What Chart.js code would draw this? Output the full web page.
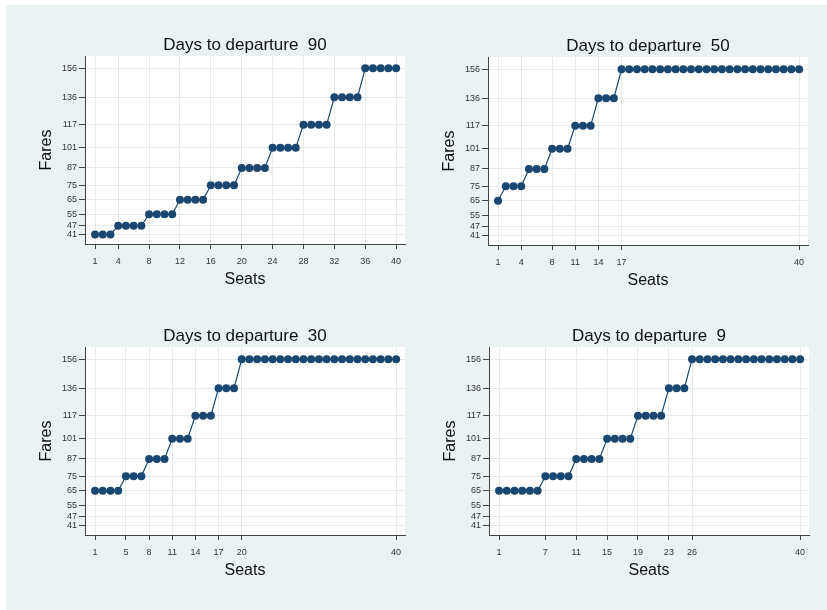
<!DOCTYPE html>
<html lang="en">
<head>
    <meta charset="UTF-8">
    <title>Fares by seats and days to departure</title>
    <script src="https://cdn.jsdelivr.net/npm/chart.js"></script>
    <style>
        body { margin: 0; background: #ffffff; }
        #page {
            position: absolute;
            left: 6px; top: 5px;
            width: 821px; height: 605px;
            background: #eaf2f3;
        }
        .panel {
            position: absolute;
            width: 405px;
            height: 300px;
        }
    </style>
</head>
<body>
    <div id="page"></div>
    <div class="panel" style="left:6px; top:5px;"><canvas id="c90"></canvas></div>
    <div class="panel" style="left:409px; top:6px;"><canvas id="c50"></canvas></div>
    <div class="panel" style="left:6px; top:296px;"><canvas id="c30"></canvas></div>
    <div class="panel" style="left:410px; top:296px;"><canvas id="c9"></canvas></div>

    <script>
        // Seat numbers on the x axis
        const seats = [1, 2, 3, 4, 5, 6, 7, 8, 9, 10, 11, 12, 13, 14, 15, 16, 17, 18, 19, 20,
                       21, 22, 23, 24, 25, 26, 27, 28, 29, 30, 31, 32, 33, 34, 35, 36, 37, 38, 39, 40];

        // Fares per seat, one list per days-to-departure panel
        const fares90 = [41, 41, 41, 47, 47, 47, 47, 55, 55, 55, 55, 65, 65, 65, 65, 75, 75, 75, 75, 87,
                         87, 87, 87, 101, 101, 101, 101, 117, 117, 117, 117, 136, 136, 136, 136, 156, 156, 156, 156, 156];
        const fares50 = [65, 75, 75, 75, 87, 87, 87, 101, 101, 101, 117, 117, 117, 136, 136, 136, 156, 156, 156, 156,
                         156, 156, 156, 156, 156, 156, 156, 156, 156, 156, 156, 156, 156, 156, 156, 156, 156, 156, 156, 156];
        const fares30 = [65, 65, 65, 65, 75, 75, 75, 87, 87, 87, 101, 101, 101, 117, 117, 117, 136, 136, 136, 156,
                         156, 156, 156, 156, 156, 156, 156, 156, 156, 156, 156, 156, 156, 156, 156, 156, 156, 156, 156, 156];
        const fares9 = [65, 65, 65, 65, 65, 65, 75, 75, 75, 75, 87, 87, 87, 87, 101, 101, 101, 101, 117, 117,
                        117, 117, 136, 136, 136, 156, 156, 156, 156, 156, 156, 156, 156, 156, 156, 156, 156, 156, 156, 156];

        // Tick labels
        const fareTicks = [41, 47, 55, 65, 75, 87, 101, 117, 136, 156];
        const seatTicks90 = [1, 4, 8, 12, 16, 20, 24, 28, 32, 36, 40];
        const seatTicks50 = [1, 4, 8, 11, 14, 17, 40];
        const seatTicks30 = [1, 5, 8, 11, 14, 17, 20, 40];
        const seatTicks9 = [1, 7, 11, 15, 19, 23, 26, 40];

        const navy = '#1a476f';
        const fontFamily = '"Liberation Sans", Arial, sans-serif';

        // white plot region + title centred over the plot region (Stata style)
        const plotBg = {
            id: 'plotBg',
            beforeDraw(chart) {
                const a = chart.chartArea;
                chart.ctx.save();
                chart.ctx.fillStyle = '#ffffff';
                chart.ctx.fillRect(a.left, a.top, a.right - a.left, a.bottom - a.top);
                chart.ctx.restore();
            },
            afterDraw(chart, args, opts) {
                const a = chart.chartArea;
                const ctx = chart.ctx;
                ctx.save();
                ctx.fillStyle = '#111';
                ctx.font = '17px ' + fontFamily;
                ctx.textAlign = 'center';
                ctx.textBaseline = 'middle';
                ctx.fillText(opts.text, (a.left + a.right) / 2, a.top - 11);
                ctx.restore();
            }
        };

        function makePanel(id, days, fares, seatTicks) {
            new Chart(document.getElementById(id), {
                type: 'line',
                data: {
                    datasets: [{
                        data: seats.map((s, i) => ({ x: s, y: fares[i] })),
                        borderColor: navy,
                        backgroundColor: navy,
                        borderWidth: 1.2,
                        pointRadius: 4,
                        pointBorderWidth: 0,
                        pointBackgroundColor: navy,
                        tension: 0
                    }]
                },
                options: {
                    responsive: true,
                    maintainAspectRatio: false,
                    animation: false,
                    layout: { padding: { left: 0, top: 51, right: 6, bottom: 11 } },
                    plugins: {
                        legend: { display: false },
                        tooltip: { enabled: false },
                        title: { display: false },
                        plotBg: { text: 'Days to departure  ' + days }
                    },
                    scales: {
                        x: {
                            type: 'linear',
                            min: -0.3,
                            max: 41.15,
                            afterBuildTicks: s => { s.ticks = seatTicks.map(v => ({ value: v })); },
                            afterFit: s => { s.height = 50; },
                            grid: { color: '#e2eaec', tickColor: '#444', tickLength: 5 },
                            border: { color: '#444', width: 1 },
                            ticks: {
                                autoSkip: false, maxRotation: 0, padding: 7,
                                color: '#333', font: { family: fontFamily, size: 9 }
                            },
                            title: {
                                display: true, text: 'Seats', color: '#111',
                                font: { family: fontFamily, size: 16 },
                                padding: { top: 0, bottom: 5 }
                            }
                        },
                        y: {
                            type: 'linear',
                            min: 34.4,
                            max: 164.5,
                            afterBuildTicks: s => { s.ticks = fareTicks.map(v => ({ value: v })); },
                            afterFit: s => { s.width = 79; },
                            grid: { color: '#e2eaec', tickColor: '#444', tickLength: 6 },
                            border: { color: '#444', width: 1 },
                            ticks: {
                                autoSkip: false, padding: 2,
                                color: '#333', font: { family: fontFamily, size: 9 }
                            },
                            title: {
                                display: true, text: 'Fares', color: '#111',
                                font: { family: fontFamily, size: 16 },
                                padding: { top: 31, bottom: 0 }
                            }
                        }
                    }
                },
                plugins: [plotBg]
            });
        }

        makePanel('c90', 90, fares90, seatTicks90);
        makePanel('c50', 50, fares50, seatTicks50);
        makePanel('c30', 30, fares30, seatTicks30);
        makePanel('c9', 9, fares9, seatTicks9);
    </script>
</body>
</html>
